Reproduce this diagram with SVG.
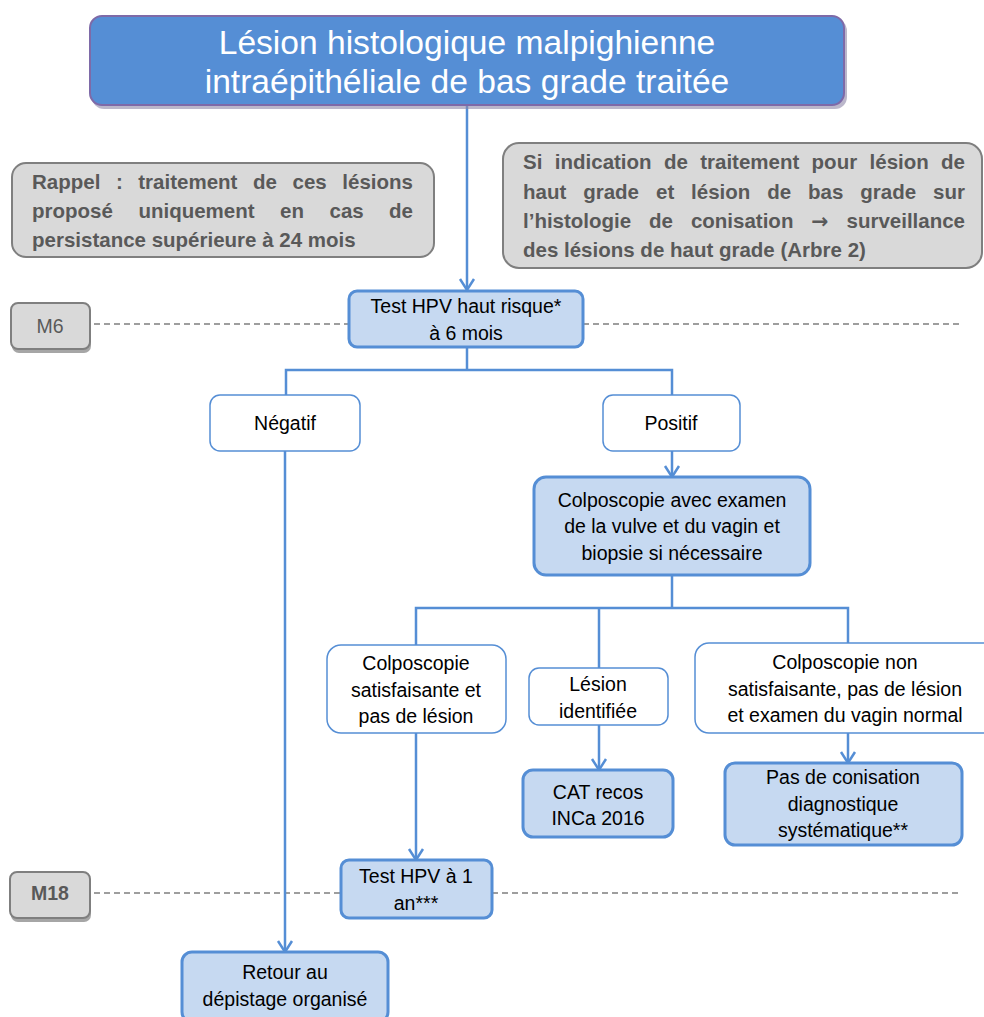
<svg xmlns="http://www.w3.org/2000/svg" width="984" height="1017" viewBox="0 0 984 1017">
<defs>
<style>
.t{font-family:"Liberation Sans",Arial,sans-serif;fill:#000;text-anchor:middle;font-size:19.5px}
.g{font-family:"Liberation Sans",Arial,sans-serif;fill:#595959;font-weight:bold;font-size:20.5px}
.ge{text-anchor:end}
.blue{fill:#c6d9f1;stroke:#558ed5;stroke-width:3}
.white{fill:#fff;stroke:#558ed5;stroke-width:1.5}
.grey{fill:#d9d9d9;stroke:#7f7f7f;stroke-width:2}
.shadow{fill:#a6a6a6}
.ln{fill:none;stroke:#558ed5;stroke-width:2.5}
.dash{fill:none;stroke:#7f7f7f;stroke-width:1.5;stroke-dasharray:6 4}
</style>
<marker id="arr" viewBox="0 0 12 14" refX="11" refY="7" markerWidth="12" markerHeight="14" markerUnits="userSpaceOnUse" orient="auto" overflow="visible">
<path d="M0,0 L11,7 L0,14" fill="none" stroke="#558ed5" stroke-width="2.5"/>
</marker>
</defs>
<rect width="984" height="1017" fill="#fff"/>

<g id="timeline">
<line class="dash" x1="94" y1="324" x2="348" y2="324"/>
<line class="dash" x1="583" y1="324" x2="962" y2="324"/>
<line class="dash" x1="94" y1="893" x2="341" y2="893"/>
<line class="dash" x1="492" y1="893" x2="962" y2="893"/>
</g>

<g id="connectors">
<line class="ln" x1="467" y1="106" x2="467" y2="290" marker-end="url(#arr)"/>
<polyline class="ln" points="467,347 467,370"/>
<polyline class="ln" points="286,395 286,370 672,370 672,395"/>
<line class="ln" x1="672" y1="451" x2="672" y2="477" marker-end="url(#arr)"/>
<polyline class="ln" points="672,575 672,608"/>
<polyline class="ln" points="416,645 416,608 848,608 848,643"/>
<line class="ln" x1="599" y1="608" x2="599" y2="668"/>
<line class="ln" x1="416" y1="733" x2="416" y2="860" marker-end="url(#arr)"/>
<line class="ln" x1="599" y1="725" x2="599" y2="770" marker-end="url(#arr)"/>
<line class="ln" x1="848" y1="733" x2="848" y2="763" marker-end="url(#arr)"/>
<line class="ln" x1="285" y1="451" x2="285" y2="952" marker-end="url(#arr)"/>
</g>

<g id="title">
<rect x="92" y="19" width="755" height="90" rx="12" fill="#8d87a8" opacity="0.6"/>
<rect x="90" y="16" width="754" height="89" rx="12" fill="#558ed5" stroke="#7e6aa8" stroke-width="2"/>
<text x="467" y="54" font-family="'Liberation Sans',Arial,sans-serif" font-size="33.6" fill="#fff" text-anchor="middle">Lésion histologique malpighienne</text>
<text x="467" y="93" font-family="'Liberation Sans',Arial,sans-serif" font-size="33.6" fill="#fff" text-anchor="middle">intraépithéliale de bas grade traitée</text>
</g>

<g id="rappel">
<rect class="grey" x="12" y="163" width="422" height="94" rx="14"/>
<text class="g" y="189"><tspan x="32">Rappel</tspan><tspan x="115.9">:</tspan><tspan x="138.3">traitement</tspan><tspan x="253">de</tspan><tspan x="292.5">ces</tspan></text>
<text class="g ge" x="413" y="189">lésions</text>
<text class="g" y="218"><tspan x="32">proposé</tspan><tspan x="138.4">uniquement</tspan><tspan x="280.1">en</tspan><tspan x="329.5">cas</tspan></text>
<text class="g ge" x="413" y="218">de</text>
<text class="g" x="32" y="247">persistance supérieure à 24 mois</text>
</g>

<g id="si-indication">
<rect class="grey" x="503" y="143" width="479" height="125" rx="16"/>
<text class="g" y="169"><tspan x="523">Si</tspan><tspan x="554.8">indication</tspan><tspan x="663.9">de</tspan><tspan x="700.2">traitement</tspan><tspan x="811.6">pour</tspan><tspan x="869.6">lésion</tspan></text>
<text class="g ge" x="965" y="169">de</text>
<text class="g" y="199"><tspan x="523">haut</tspan><tspan x="583.2">grade</tspan><tspan x="656">et</tspan><tspan x="691.1">lésion</tspan><tspan x="767.3">de</tspan><tspan x="808.1">bas</tspan><tspan x="860.3">grade</tspan></text>
<text class="g ge" x="965" y="199">sur</text>
<text class="g" y="228"><tspan x="523">l’histologie</tspan><tspan x="649.1">de</tspan><tspan x="690.9">conisation</tspan><tspan x="811.3" style="font-family:'DejaVu Sans',sans-serif">→</tspan></text>
<text class="g ge" x="965" y="228">surveillance</text>
<text class="g" x="523" y="257">des lésions de haut grade (Arbre 2)</text>
</g>

<g id="m6">
<rect class="shadow" x="12" y="306" width="79" height="47" rx="7"/>
<rect class="grey" x="11" y="303" width="79" height="46" rx="7"/>
<text class="t" x="50" y="333" style="fill:#595959">M6</text>
</g>

<g id="test-hpv-6">
<rect class="blue" x="349" y="291" width="234" height="56" rx="8"/>
<text class="t" x="466" y="313">Test HPV haut risque*</text>
<text class="t" x="466" y="340">à 6 mois</text>
</g>

<g id="negatif">
<rect class="white" x="210" y="395" width="150" height="56" rx="10"/>
<text class="t" x="285" y="430">Négatif</text>
</g>

<g id="positif">
<rect class="white" x="603" y="395" width="137" height="56" rx="10"/>
<text class="t" x="671" y="430">Positif</text>
</g>

<g id="colposcopie">
<rect class="blue" x="534" y="477" width="276" height="98" rx="12"/>
<text class="t" x="672" y="507">Colposcopie avec examen</text>
<text class="t" x="672" y="533">de la vulve et du vagin et</text>
<text class="t" x="672" y="560">biopsie si nécessaire</text>
</g>

<g id="colpo-satisfaisante">
<rect class="white" x="327" y="645" width="179" height="88" rx="14"/>
<text class="t" x="416" y="670">Colposcopie</text>
<text class="t" x="416" y="697">satisfaisante et</text>
<text class="t" x="416" y="723">pas de lésion</text>
</g>

<g id="lesion-identifiee">
<rect class="white" x="529" y="668" width="139" height="57" rx="10"/>
<text class="t" x="598" y="691">Lésion</text>
<text class="t" x="598" y="718">identifiée</text>
</g>

<g id="colpo-non-satisfaisante">
<rect class="white" x="695" y="643" width="306" height="90" rx="14"/>
<text class="t" x="845" y="669">Colposcopie non</text>
<text class="t" x="845" y="696">satisfaisante, pas de lésion</text>
<text class="t" x="845" y="722">et examen du vagin normal</text>
</g>

<g id="cat-recos">
<rect class="blue" x="523" y="770" width="150" height="67" rx="10"/>
<text class="t" x="598" y="799">CAT recos</text>
<text class="t" x="598" y="825">INCa 2016</text>
</g>

<g id="pas-conisation">
<rect class="blue" x="725" y="763" width="237" height="82" rx="10"/>
<text class="t" x="843" y="784">Pas de conisation</text>
<text class="t" x="843" y="811">diagnostique</text>
<text class="t" x="843" y="837">systématique**</text>
</g>

<g id="m18">
<rect class="shadow" x="11" y="875" width="80" height="47" rx="7"/>
<rect class="grey" x="10" y="872" width="80" height="46" rx="7"/>
<text class="t" x="50" y="900" style="fill:#595959;font-weight:bold">M18</text>
</g>

<g id="test-hpv-1an">
<rect class="blue" x="341" y="860" width="151" height="58" rx="8"/>
<text class="t" x="416" y="883">Test HPV à 1</text>
<text class="t" x="416" y="910">an***</text>
</g>

<g id="retour">
<rect class="blue" x="182" y="952" width="206" height="70" rx="10"/>
<text class="t" x="285" y="979">Retour au</text>
<text class="t" x="285" y="1006">dépistage organisé</text>
</g>
</svg>
